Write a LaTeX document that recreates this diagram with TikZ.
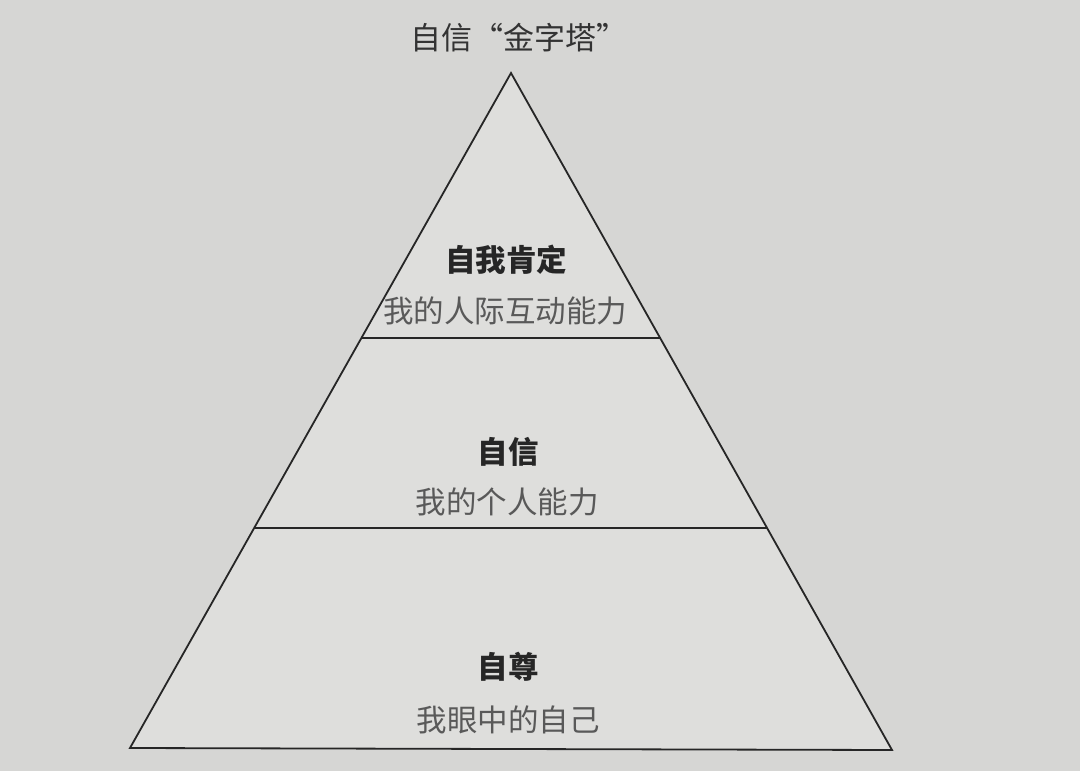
\documentclass[tikz,border=0pt]{standalone}
\usepackage{fontspec}
\newfontfamily\cjk{Noto Sans CJK SC}
\begin{document}
\begin{tikzpicture}[x=1pt,y=-1pt,
  edge/.style={draw=black!85,line width=1.8pt,line join=miter},
  head/.style={font=\cjk\bfseries\fontsize{30.5}{32}\selectfont,text=black!85,inner sep=0pt},
  sub/.style={font=\cjk\fontsize{30.5}{32}\selectfont,text=black!65,inner sep=0pt},
  ttl/.style={font=\cjk\fontsize{31}{33}\selectfont,text=black!80,inner sep=0pt}]
\fill[color={rgb,255:red,214;green,214;blue,212}] (0,0) rectangle (1080,771);
\useasboundingbox (0,0) rectangle (1080,771);
\coordinate (apex) at (511,73);
\coordinate (bl) at (130,748);
\coordinate (br) at (892,750);
\coordinate (l1) at (361,338);
\coordinate (r1) at (660,338);
\coordinate (l2) at (254,528);
\coordinate (r2) at (767,528);
\fill[color={rgb,255:red,222;green,222;blue,220}] (apex) -- (br) -- (bl) -- cycle;
\draw[edge] (apex) -- (br) -- (bl) -- cycle;
\draw[edge] (l1) -- (r1);
\draw[edge] (l2) -- (r2);
\node[ttl] (title) at (519,38) {自信“金字塔”};
\node[head] (h1) at (506,260) {自我肯定};
\node[sub] (s1) at (505,311) {我的人际互动能力};
\node[head] (h2) at (508,452) {自信};
\node[sub] (s2) at (507,502) {我的个人能力};
\node[head] (h3) at (508,667) {自尊};
\node[sub] (s3) at (508,720) {我眼中的自己};
\end{tikzpicture}
\end{document}
